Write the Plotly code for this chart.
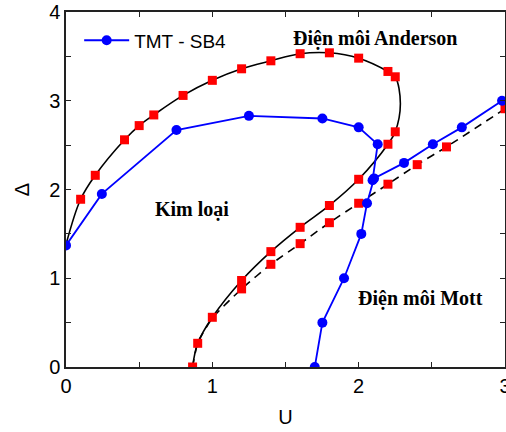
import plotly.graph_objects as go

# Black solid boundary curve (smooth), points along the curve
bnd_u = [0.0, 0.1, 0.2, 0.4, 0.5, 0.6, 0.8, 1.0, 1.2, 1.4, 1.6, 1.8, 2.0, 2.2, 2.25, 2.285, 2.25, 2.2, 2.0, 1.8, 1.6, 1.4, 1.2, 1.0, 0.9, 0.865]
bnd_d = [1.38, 1.89, 2.16, 2.56, 2.72, 2.84, 3.06, 3.23, 3.36, 3.45, 3.53, 3.54, 3.48, 3.33, 3.27, 2.97, 2.65, 2.51, 2.115, 1.82, 1.574, 1.30, 0.975, 0.56, 0.267, 0.0]
# red squares on the solid curve
sq_u = [0.1, 0.2, 0.4, 0.5, 0.6, 0.8, 1.0, 1.2, 1.4, 1.6, 1.8, 2.0, 2.2, 2.25, 2.25, 2.2, 2.0, 1.8, 1.6, 1.4, 1.2, 1.0, 0.9, 0.865]
sq_d = [1.89, 2.16, 2.56, 2.72, 2.84, 3.06, 3.23, 3.36, 3.45, 3.53, 3.54, 3.48, 3.33, 3.27, 2.65, 2.51, 2.115, 1.82, 1.574, 1.30, 0.975, 0.56, 0.267, 0.0]

# dashed curve with red squares
dash_u = [0.865, 0.9, 1.0, 1.2, 1.4, 1.6, 1.8, 2.0, 2.2, 2.4, 2.6, 3.0]
dash_d = [0.0, 0.267, 0.55, 0.88, 1.157, 1.39, 1.626, 1.845, 2.06, 2.28, 2.48, 2.91]

# TMT - SB4 (blue): Anderson branch and Mott branch
and_u = [0.0, 0.245, 0.755, 1.25, 1.752, 2.0, 2.13, 2.095]
and_d = [1.37, 1.95, 2.67, 2.83, 2.80, 2.70, 2.51, 2.105]
mott_u = [1.70, 1.752, 1.90, 2.018, 2.057, 2.105, 2.31, 2.507, 2.705, 2.98]
mott_d = [0.0, 0.50, 1.0, 1.50, 1.845, 2.125, 2.30, 2.51, 2.70, 3.0]

fig = go.Figure()
fig.add_trace(go.Scatter(x=bnd_u, y=bnd_d, mode="lines", line=dict(color="black", width=1.6, shape="spline", smoothing=1.0), showlegend=False, hoverinfo="skip"))
fig.add_trace(go.Scatter(x=dash_u, y=dash_d, mode="lines", line=dict(color="black", width=1.6, dash="8px,6px", shape="spline", smoothing=0.6), showlegend=False))
fig.add_trace(go.Scatter(x=sq_u, y=sq_d, mode="markers", marker=dict(symbol="square", size=9, color="#ff0000"), showlegend=False))
fig.add_trace(go.Scatter(x=dash_u[3:], y=dash_d[3:], mode="markers", marker=dict(symbol="square", size=9, color="#ff0000"), showlegend=False))
fig.add_trace(go.Scatter(x=and_u, y=and_d, mode="lines+markers", name="TMT - SB4", line=dict(color="#0000ff", width=1.8), marker=dict(symbol="circle", size=10, color="#0000ff")))
fig.add_trace(go.Scatter(x=mott_u, y=mott_d, mode="lines+markers", showlegend=False, line=dict(color="#0000ff", width=1.8), marker=dict(symbol="circle", size=10, color="#0000ff")))

ann_font = dict(family="Liberation Serif", size=20, color="black")
fig.add_annotation(x=2.11, y=3.7, text="<b>Điện môi Anderson</b>", showarrow=False, font=ann_font, xref="x", yref="y")
fig.add_annotation(x=0.86, y=1.77, text="<b>Kim loại</b>", showarrow=False, font=ann_font, xref="x", yref="y")
fig.add_annotation(x=2.42, y=0.77, text="<b>Điện môi Mott</b>", showarrow=False, font=ann_font, xref="x", yref="y")

axis_common = dict(showgrid=False, zeroline=False, showline=True, linecolor="#222222", linewidth=1.5,
                   mirror="ticks", ticks="inside", ticklen=5, tickwidth=1.2, tickcolor="#222222",
                   ticklabeloverflow="allow", automargin=False,
                   tickfont=dict(family="Liberation Sans", size=20, color="black"),
                   minor=dict(ticks="inside", ticklen=5, tickwidth=1.2, tickcolor="#222222", dtick=0.5))
fig.update_xaxes(range=[0, 3], tick0=0, dtick=1, title=dict(text="U", font=dict(family="Liberation Sans", size=20, color="black"), standoff=14), **axis_common)
fig.update_yaxes(range=[0, 4], tick0=0, dtick=1, title=dict(text="Δ", font=dict(family="Liberation Sans", size=20, color="black"), standoff=14), **axis_common)

fig.update_layout(width=506, height=432, margin=dict(l=66, r=1, t=12, b=65),
                  paper_bgcolor="white", plot_bgcolor="white",
                  legend=dict(x=0.03, y=0.92, xanchor="left", yanchor="middle", bgcolor="rgba(0,0,0,0)",
                              font=dict(family="Liberation Sans", size=19, color="black"), itemwidth=45))
fig.write_html("out.html")
